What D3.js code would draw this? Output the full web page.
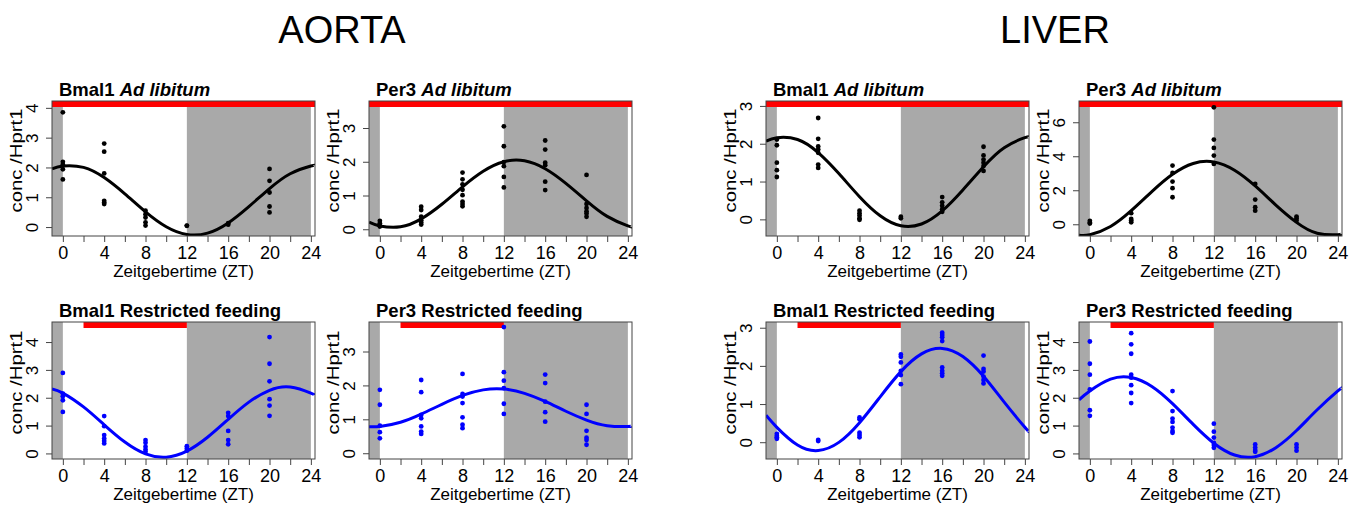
<!DOCTYPE html>
<html>
<head>
<meta charset="utf-8">
<script src="https://cdn.jsdelivr.net/npm/d3@7"></script>
<style>
  body { margin: 0; background: #fff; }
  text { font-family: "Liberation Sans", Arial, sans-serif; fill: #000; }
</style>
</head>
<body>
<svg id="chart" width="1356" height="507"></svg>
<script>
// sample times for the fitted cosinor curves
const curveZT = [-1.05, 0, 2, 4, 6, 8, 10, 12, 14, 16, 18, 20, 22, 24, 24.4]

// AORTA, Bmal1 ad libitum
const aortaBmal1AL = [
  [0, [3.85, 2.19, 2.1, 1.94, 1.6]],
  [4, [2.8, 2.53, 1.8, 0.88, 0.82, 0.77]],
  [8, [0.55, 0.43, 0.32, 0.16, 0.05]],
  [12, [0.05, 0.04]],
  [16, [0.13, 0.08]],
  [20, [1.95, 1.55, 1.16, 0.69, 0.49]]
]
const aortaBmal1ALFit = [1.956, 2.05, 2.003, 1.66, 1.113, 0.509, 0.01, -0.25, -0.203, 0.14, 0.687, 1.291, 1.79, 2.05, 2.066]

// AORTA, Per3 ad libitum
const aortaPer3AL = [
  [0, [0.25, 0.18, 0.11, 0.08]],
  [4, [0.67, 0.57, 0.37, 0.27, 0.2, 0.14]],
  [8, [1.68, 1.48, 1.33, 1.17, 1.01, 0.82, 0.75, 0.68]],
  [12, [3.05, 2.46, 1.99, 1.87, 1.55, 1.24]],
  [16, [2.63, 2.36, 1.97, 1.9, 1.41, 1.16]],
  [20, [1.61, 0.75, 0.63, 0.53, 0.47, 0.37]]
]
const aortaPer3ALFit = [0.211, 0.099, 0.072, 0.307, 0.741, 1.258, 1.719, 2.001, 2.028, 1.793, 1.359, 0.842, 0.381, 0.099, 0.072]

// AORTA, Bmal1 restricted feeding
const aortaBmal1RF = [
  [0, [2.89, 2.15, 2.05, 1.91, 1.49]],
  [4, [1.34, 0.98, 0.66, 0.54, 0.45, 0.36]],
  [8, [0.48, 0.38, 0.24, 0.14, 0.06]],
  [12, [0.26, 0.18, 0.1]],
  [16, [1.46, 1.34, 0.81, 0.48, 0.33]],
  [20, [4.18, 3.22, 2.59, 1.95, 1.72, 1.35]]
]
const aortaBmal1RFFit = [2.317, 2.168, 1.67, 1.026, 0.408, -0.017, -0.136, 0.083, 0.58, 1.224, 1.842, 2.267, 2.386, 2.168, 2.087]

// AORTA, Per3 restricted feeding
const aortaPer3RF = [
  [0, [1.87, 1.43, 0.81, 0.62, 0.44]],
  [4, [2.16, 1.8, 1.13, 1.03, 0.79, 0.64, 0.57]],
  [8, [2.34, 1.75, 1.67, 1.48, 1.06, 0.84, 0.74]],
  [12, [3.72, 2.39, 2.14, 1.92, 1.46, 1.16]],
  [16, [2.32, 2.07, 1.52, 1.21, 0.93]],
  [20, [1.43, 1.16, 0.66, 0.46, 0.39, 0.25]]
]
const aortaPer3RFFit = [0.782, 0.789, 0.914, 1.153, 1.442, 1.704, 1.868, 1.891, 1.766, 1.527, 1.238, 0.976, 0.812, 0.789, 0.803]

// LIVER, Bmal1 ad libitum
const liverBmal1AL = [
  [0, [2.11, 1.96, 1.5, 1.3, 1.12]],
  [4, [2.68, 2.13, 1.93, 1.85, 1.76, 1.45, 1.36]],
  [8, [0.23, 0.16, 0.1, 0.03, -0.01]],
  [12, [0.07, 0.03]],
  [16, [0.59, 0.45, 0.36, 0.27, 0.2]],
  [20, [1.92, 1.69, 1.58, 1.5, 1.41, 1.28]]
]
const liverBmal1ALFit = [2.065, 2.16, 2.112, 1.765, 1.211, 0.599, 0.094, -0.17, -0.122, 0.225, 0.779, 1.391, 1.896, 2.16, 2.176]

// LIVER, Per3 ad libitum
const liverPer3AL = [
  [0, [0.2, 0.1, 0.04]],
  [4, [0.65, 0.31, 0.22, 0.12]],
  [8, [3.45, 3.02, 2.51, 2.12, 1.59]],
  [12, [6.88, 4.98, 4.49, 4.04, 3.55]],
  [16, [2.37, 1.45, 1.0, 0.8]],
  [20, [0.45, 0.35, 0.22]]
]
const liverPer3ALFit = [-0.643, -0.614, -0.129, 0.799, 1.921, 2.937, 3.575, 3.664, 3.179, 2.251, 1.129, 0.113, -0.525, -0.614, -0.56]

// LIVER, Bmal1 restricted feeding
const liverBmal1RF = [
  [0, [0.22, 0.17, 0.13, 0.09]],
  [4, [0.06, 0.03]],
  [8, [0.65, 0.6, 0.25, 0.19, 0.13]],
  [12, [2.3, 2.24, 2.09, 1.87, 1.76, 1.52]],
  [16, [2.87, 2.81, 2.75, 2.65, 1.96, 1.87, 1.81, 1.74]],
  [20, [2.27, 1.92, 1.85, 1.72, 1.63, 1.54]]
]
const liverBmal1RFFit = [0.706, 0.39, -0.074, -0.218, -0.004, 0.512, 1.19, 1.85, 2.314, 2.458, 2.244, 1.728, 1.05, 0.39, 0.277]

// LIVER, Per3 restricted feeding
const liverPer3RF = [
  [0, [4.02, 3.22, 2.83, 2.3, 1.55, 1.35]],
  [4, [4.32, 3.92, 3.58, 2.83, 2.72, 2.45, 2.17, 1.81]],
  [8, [2.24, 1.52, 1.25, 1.13, 0.93, 0.81, 0.74]],
  [12, [1.07, 0.78, 0.57, 0.38, 0.3, 0.2]],
  [16, [0.32, 0.21, 0.12, 0.06]],
  [20, [0.32, 0.21, 0.1]]
]
const liverPer3RFFit = [1.927, 2.243, 2.667, 2.726, 2.404, 1.787, 1.042, 0.367, -0.057, -0.116, 0.206, 0.823, 1.568, 2.243, 2.353]

// light/dark phases and feeding windows
const darkPhases = [[-1.05, 0], [12, 24]]
const adLibWindow = [-1.05, 24.4]
const restrictedWindow = [2, 12]

const xTicks = d3.range(0, 25, 2)
const xTickLabels = [0, 4, 8, 12, 16, 20, 24]

const panels = [
  {gene: 'Bmal1', diet: 'Ad libitum', col: 0, row: 0, pts: aortaBmal1AL, fit: aortaBmal1ALFit, y: [-0.3, 4.23], yTicks: [0, 1, 2, 3, 4], feed: adLibWindow, color: '#000'},
  {gene: 'Per3', diet: 'Ad libitum', col: 1, row: 0, pts: aortaPer3AL, fit: aortaPer3ALFit, y: [-0.2, 3.8], yTicks: [0, 1, 2, 3], feed: adLibWindow, color: '#000'},
  {gene: 'Bmal1', diet: 'Restricted feeding', col: 0, row: 1, pts: aortaBmal1RF, fit: aortaBmal1RFFit, y: [-0.2, 4.72], yTicks: [0, 1, 2, 3, 4], feed: restrictedWindow, color: '#0000ff'},
  {gene: 'Per3', diet: 'Restricted feeding', col: 1, row: 1, pts: aortaPer3RF, fit: aortaPer3RFFit, y: [-0.17, 3.87], yTicks: [0, 1, 2, 3], feed: restrictedWindow, color: '#0000ff'},
  {gene: 'Bmal1', diet: 'Ad libitum', col: 2, row: 0, pts: liverBmal1AL, fit: liverBmal1ALFit, y: [-0.44, 3.13], yTicks: [0, 1, 2, 3], feed: adLibWindow, color: '#000'},
  {gene: 'Per3', diet: 'Ad libitum', col: 3, row: 0, pts: liverPer3AL, fit: liverPer3ALFit, y: [-0.69, 7.25], yTicks: [0, 2, 4, 6], feed: adLibWindow, color: '#000'},
  {gene: 'Bmal1', diet: 'Restricted feeding', col: 2, row: 1, pts: liverBmal1RF, fit: liverBmal1RFFit, y: [-0.44, 3.15], yTicks: [0, 1, 2, 3], feed: restrictedWindow, color: '#0000ff'},
  {gene: 'Per3', diet: 'Restricted feeding', col: 3, row: 1, pts: liverPer3RF, fit: liverPer3RFFit, y: [-0.2, 4.72], yTicks: [0, 1, 2, 3, 4], feed: restrictedWindow, color: '#0000ff'}
]

const colLeft = [52, 369, 766, 1079]
const boxW = 263
const rowBox = [[101, 236], [322, 459]]

const svg = d3.select('#chart')
svg.append('rect').attr('width', 1356).attr('height', 507).attr('fill', '#fff')

// big tissue titles
svg.append('text').attr('x', 342).attr('y', 43).attr('text-anchor', 'middle')
  .style('font-size', '38px').text('AORTA')
svg.append('text').attr('x', 1055).attr('y', 43).attr('text-anchor', 'middle')
  .style('font-size', '38px').text('LIVER')

panels.forEach(function (p, i) {
  const left = colLeft[p.col]
  const top = rowBox[p.row][0]
  const bottom = rowBox[p.row][1]

  const x = d3.scaleLinear().domain([-1.05, 24.4]).range([left, left + boxW])
  const y = d3.scaleLinear().domain(p.y).range([bottom, top])

  const g = svg.append('g')

  const clipId = 'clip' + i
  g.append('clipPath').attr('id', clipId)
    .append('rect').attr('x', left).attr('y', top).attr('width', boxW).attr('height', bottom - top)

  const inner = g.append('g').attr('clip-path', 'url(#' + clipId + ')')

  // dark phases
  inner.selectAll('.dark')
    .data(darkPhases)
    .enter()
    .append('rect')
    .attr('class', 'dark')
    .attr('x', d => x(d[0]))
    .attr('width', d => x(d[1]) - x(d[0]))
    .attr('y', top)
    .attr('height', bottom - top)
    .style('fill', '#a9a9a9')

  // feeding bar
  inner.append('rect')
    .attr('x', x(p.feed[0]))
    .attr('width', x(p.feed[1]) - x(p.feed[0]))
    .attr('y', top)
    .attr('height', 6)
    .style('fill', '#ff0000')

  // fitted curve
  const line = d3.line()
    .x((d, k) => x(curveZT[k]))
    .y(d => y(d))
    .curve(d3.curveNatural)
  inner.append('path')
    .attr('d', line(p.fit))
    .style('fill', 'none')
    .style('stroke', p.color)
    .style('stroke-width', 3)

  // measured points
  const flat = []
  p.pts.forEach(function (grp) {
    grp[1].forEach(function (v) { flat.push([grp[0], v]) })
  })
  inner.selectAll('.pt')
    .data(flat)
    .enter()
    .append('circle')
    .attr('class', 'pt')
    .attr('cx', d => x(d[0]))
    .attr('cy', d => y(d[1]))
    .attr('r', 2.4)
    .style('fill', p.color)

  // box
  g.append('rect')
    .attr('x', left).attr('y', top)
    .attr('width', boxW).attr('height', bottom - top)
    .style('fill', 'none')
    .style('stroke', '#444')
    .style('stroke-width', 1)

  // x axis
  const xAxis = d3.axisBottom(x)
    .tickValues(xTicks)
    .tickSize(6)
    .tickFormat(d => xTickLabels.indexOf(d) >= 0 ? d : '')
  const xg = g.append('g').attr('transform', 'translate(0,' + bottom + ')').call(xAxis)
  xg.select('.domain').remove()
  xg.selectAll('line').style('stroke', '#444')
  xg.selectAll('text')
    .attr('y', 10)
    .attr('dy', '0.71em')
    .style('font-size', '18px')
    .style('font-family', '"Liberation Sans", Arial, sans-serif')
    .style('fill', '#000')

  // y axis
  const yAxis = d3.axisLeft(y)
    .tickValues(p.yTicks)
    .tickSize(6)
    .tickFormat(d3.format('d'))
  const yg = g.append('g').attr('transform', 'translate(' + left + ',0)').call(yAxis)
  yg.select('.domain').remove()
  yg.selectAll('line').style('stroke', '#444')
  yg.selectAll('text')
    .attr('x', null).attr('dy', null)
    .attr('text-anchor', 'middle')
    .attr('transform', 'translate(-14,0) rotate(-90)')
    .style('font-size', '17px')
    .style('font-family', '"Liberation Sans", Arial, sans-serif')
    .style('fill', '#000')

  // axis titles
  g.append('text')
    .attr('x', left + boxW / 2)
    .attr('y', bottom + 41)
    .attr('text-anchor', 'middle')
    .style('font-size', '17px')
    .text('Zeitgebertime (ZT)')

  g.append('text')
    .attr('transform', 'translate(' + (left - 30) + ',' + ((top + bottom) / 2 - 8) + ') rotate(-90)')
    .attr('text-anchor', 'middle')
    .attr('textLength', 104)
    .attr('lengthAdjust', 'spacingAndGlyphs')
    .style('font-size', '17px')
    .text('conc /Hprt1')

  // panel title
  const title = g.append('text')
    .attr('x', left + 7)
    .attr('y', top - 5)
    .style('font-size', '18.5px')
    .style('font-weight', 'bold')
  title.append('tspan').text(p.gene + ' ')
  if (p.diet === 'Ad libitum') {
    title.append('tspan').style('font-style', 'italic').text(p.diet)
  } else {
    title.append('tspan').text(p.diet)
  }
})
</script>
</body>
</html>
